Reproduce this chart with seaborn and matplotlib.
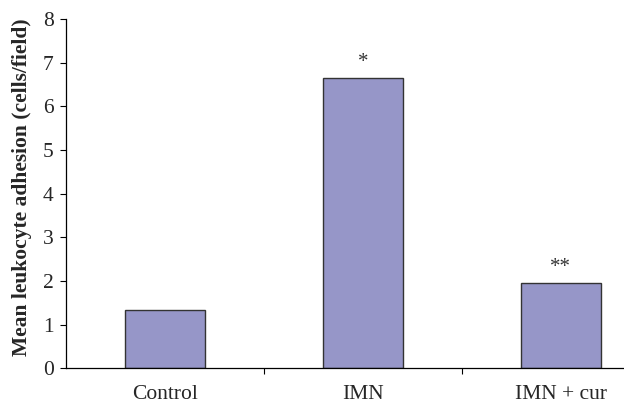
import matplotlib
matplotlib.use("Agg")
import matplotlib.pyplot as plt
import seaborn as sns
import pandas as pd

categories = ["Control", "IMN", "IMN + cur"]
values = [1.33, 6.66, 1.96]
marks = ["", "*", "**"]

sns.set_theme(style="white")
plt.rcParams['font.family'] = ['Liberation Serif', 'DejaVu Serif']

df = pd.DataFrame({"group": categories, "value": values})

fig = plt.figure(figsize=(6.24, 4.05), dpi=100)
ax = fig.add_axes([0.106, 0.091, 0.894, 0.862])
sns.barplot(data=df, x="group", y="value", ax=ax, color="#9696c8", saturation=1,
            width=0.405, edgecolor="#333333", linewidth=1.0)

ax.set_ylim(0, 8)
ax.set_xlim(-0.5, 2.32)
ax.set_yticks(range(0, 9))
ax.tick_params(axis="y", labelsize=15.5, length=4, width=0.8, color="black", left=True, pad=5)
ax.set_xticks(range(len(categories)))
ax.set_xticklabels(categories, fontsize=15.5)
ax.tick_params(axis="x", which="major", length=0, pad=12)
ax.set_xticks([0.5, 1.5], minor=True)
ax.tick_params(axis="x", which="minor", length=4, width=0.8, color="black", bottom=True)
for s in ["top", "right"]:
    ax.spines[s].set_visible(False)
for s in ["left", "bottom"]:
    ax.spines[s].set_color("black")
    ax.spines[s].set_linewidth(0.9)

ax.set_xlabel("")
ax.set_ylabel("Mean leukocyte adhesion (cells/field)", fontsize=15.5, fontweight="bold")
ax.yaxis.set_label_coords(-0.062, 0.518)

for i, (v, m) in enumerate(zip(values, marks)):
    if m:
        ax.annotate(m, xy=(i, v), xytext=(0, 4), textcoords="offset points",
                    ha="center", va="bottom", fontsize=15, color="#333333")

fig.savefig("out.png", dpi=100)
